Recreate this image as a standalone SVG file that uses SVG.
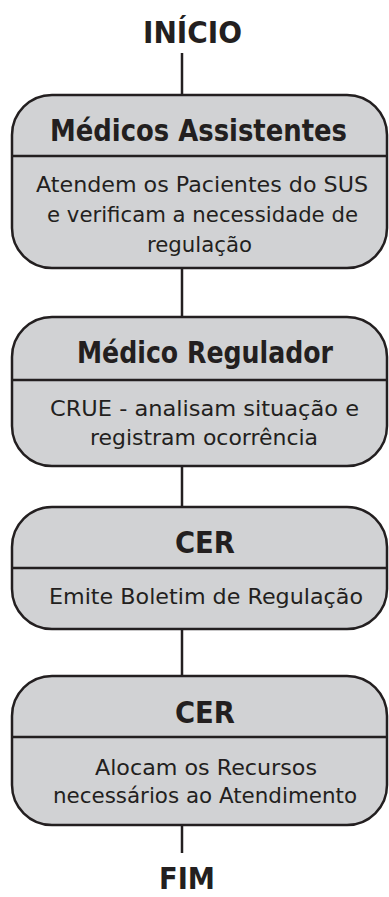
<svg xmlns="http://www.w3.org/2000/svg" width="389" height="897" viewBox="0 0 389 897">
<style>
.box{fill:#d1d2d4;stroke:#231f20;stroke-width:2.5}
.div{stroke:#231f20;stroke-width:2.5}
.con{stroke:#231f20;stroke-width:2.5;fill:none}
.t{font-family:"DejaVu Sans Condensed","DejaVu Sans",sans-serif;font-weight:bold;font-size:30px;fill:#231f20;text-anchor:middle}
.b{font-family:"DejaVu Sans",sans-serif;font-size:22px;fill:#231f20;text-anchor:middle}
</style>
<rect width="389" height="897" fill="#ffffff"/>
<g id="connectors">
<line class="con" x1="182" y1="53" x2="182" y2="95"/>
<line class="con" x1="182" y1="268" x2="182" y2="317"/>
<line class="con" x1="182" y1="466" x2="182" y2="507"/>
<line class="con" x1="182" y1="629" x2="182" y2="676"/>
<line class="con" x1="182" y1="825" x2="182" y2="853"/>
</g>
<g id="inicio">
<text class="t" x="192.5" y="43" font-size="29" textLength="99" lengthAdjust="spacingAndGlyphs">INÍCIO</text>
</g>
<g id="medicos-assistentes">
<rect class="box" x="12" y="95" width="375" height="173" rx="40" ry="40"/>
<line class="div" x1="12" y1="156" x2="387" y2="156"/>
<text class="t" x="198.5" y="141" textLength="297" lengthAdjust="spacingAndGlyphs">Médicos Assistentes</text>
<text class="b" x="202" y="192" textLength="332" lengthAdjust="spacingAndGlyphs">Atendem os Pacientes do SUS</text>
<text class="b" x="202.5" y="222" textLength="311" lengthAdjust="spacingAndGlyphs">e verificam a necessidade de</text>
<text class="b" x="199.5" y="252" textLength="105" lengthAdjust="spacingAndGlyphs">regulação</text>
</g>
<g id="medico-regulador">
<rect class="box" x="12" y="317" width="375" height="149" rx="40" ry="40"/>
<line class="div" x1="12" y1="380" x2="387" y2="380"/>
<text class="t" x="205" y="363" textLength="256" lengthAdjust="spacingAndGlyphs">Médico Regulador</text>
<text class="b" x="204.5" y="416" textLength="309" lengthAdjust="spacingAndGlyphs">CRUE - analisam situação e</text>
<text class="b" x="204" y="445" textLength="228" lengthAdjust="spacingAndGlyphs">registram ocorrência</text>
</g>
<g id="cer-1">
<rect class="box" x="12" y="507" width="375" height="122" rx="40" ry="40"/>
<line class="div" x1="12" y1="568" x2="387" y2="568"/>
<text class="t" x="205" y="553" textLength="60" lengthAdjust="spacingAndGlyphs">CER</text>
<text class="b" x="206" y="604" textLength="314" lengthAdjust="spacingAndGlyphs">Emite Boletim de Regulação</text>
</g>
<g id="cer-2">
<rect class="box" x="12" y="676" width="375" height="149" rx="40" ry="40"/>
<line class="div" x1="12" y1="737" x2="387" y2="737"/>
<text class="t" x="205" y="723" textLength="60" lengthAdjust="spacingAndGlyphs">CER</text>
<text class="b" x="206" y="775" textLength="222" lengthAdjust="spacingAndGlyphs">Alocam os Recursos</text>
<text class="b" x="205" y="803" textLength="304" lengthAdjust="spacingAndGlyphs">necessários ao Atendimento</text>
</g>
<g id="fim">
<text class="t" x="187" y="889" font-size="28" textLength="56" lengthAdjust="spacingAndGlyphs">FIM</text>
</g>
</svg>
